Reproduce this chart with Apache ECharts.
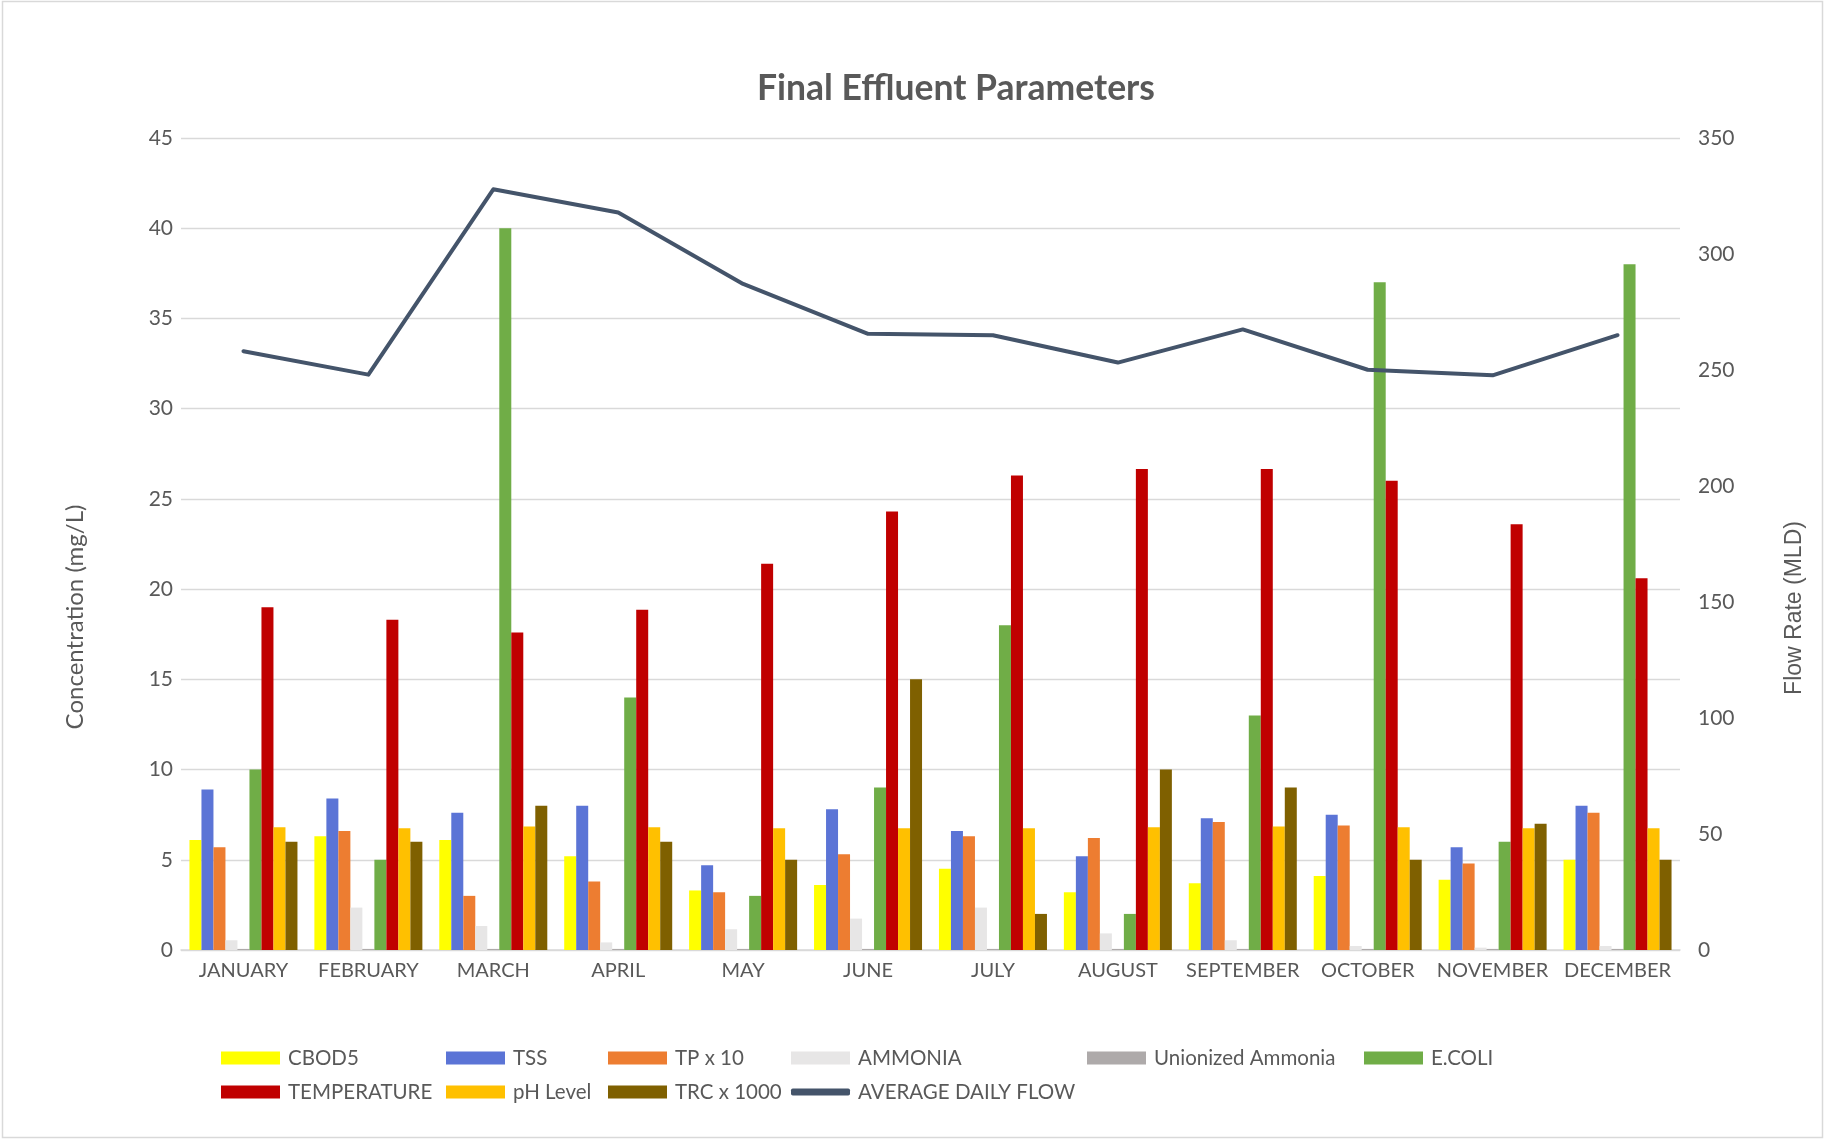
<!DOCTYPE html>
<html>
<head>
<meta charset="utf-8">
<script src="https://cdn.jsdelivr.net/npm/echarts@6/dist/echarts.min.js"></script>
<style>
html,body{margin:0;padding:0;background:#fff;}
#c{width:1825px;height:1141px;}
</style>
</head>
<body>
<div id="c"></div>
<script>
const months = ['JANUARY','FEBRUARY','MARCH','APRIL','MAY','JUNE','JULY','AUGUST','SEPTEMBER','OCTOBER','NOVEMBER','DECEMBER'];
const cbod5 = [6.1, 6.3, 6.1, 5.2, 3.3, 3.6, 4.5, 3.2, 3.7, 4.1, 3.9, 5.0];
const tss = [8.9, 8.4, 7.6, 8.0, 4.7, 7.8, 6.6, 5.2, 7.3, 7.5, 5.7, 8.0];
const tp10 = [5.7, 6.6, 3.0, 3.8, 3.2, 5.3, 6.3, 6.2, 7.1, 6.9, 4.8, 7.6];
const ammonia = [0.54, 2.35, 1.33, 0.42, 1.15, 1.74, 2.35, 0.92, 0.54, 0.22, 0.13, 0.22];
const unionized = [0.06, 0.06, 0.06, 0.06, 0.06, 0.06, 0.06, 0.06, 0.06, 0.06, 0.06, 0.06];
const ecoli = [10, 5, 40, 14, 3, 9, 18, 2, 13, 37, 6, 38];
const temperature = [19.0, 18.3, 17.6, 18.85, 21.4, 24.3, 26.3, 26.65, 26.65, 26.0, 23.6, 20.6];
const ph = [6.8, 6.75, 6.85, 6.8, 6.75, 6.75, 6.75, 6.8, 6.85, 6.8, 6.75, 6.75];
const trc1000 = [6, 6, 8, 6, 5, 15, 2, 10, 9, 5, 7, 5];
const flow = [258.1, 248.0, 327.9, 317.9, 287.1, 265.6, 265.0, 253.2, 267.5, 250.1, 247.7, 265.0];
const leftTicks = {min: 0, max: 45, interval: 5};
const rightTicks = {min: 0, max: 350, interval: 50};

const barDefs = [
  ['CBOD5', cbod5, '#FFFF00'],
  ['TSS', tss, '#5B74D6'],
  ['TP x 10', tp10, '#ED7D31'],
  ['AMMONIA', ammonia, '#E7E6E6'],
  ['Unionized Ammonia', unionized, '#AEAAAA'],
  ['E.COLI', ecoli, '#70AD47'],
  ['TEMPERATURE', temperature, '#C00000'],
  ['pH Level', ph, '#FFC000'],
  ['TRC x 1000', trc1000, '#7F6000']
];

const FONT = 'Lato';
const GREY = '#595959';

const series = barDefs.map(d => ({
  name: d[0], type: 'bar', data: d[1], yAxisIndex: 0,
  barWidth: 12, barGap: '0%',
  itemStyle: {color: d[2]},
  emphasis: {disabled: true}
}));
series.push({
  name: 'AVERAGE DAILY FLOW', type: 'line', data: flow, yAxisIndex: 1,
  symbol: 'none', lineStyle: {color: '#44546A', width: 4, join: 'round', cap: 'round'},
  itemStyle: {color: '#44546A'}, z: 5, emphasis: {disabled: true}
});

const legendPos = [
  ['CBOD5', 221, 1058], ['TSS', 446, 1058], ['TP x 10', 608, 1058], ['AMMONIA', 791, 1058],
  ['Unionized Ammonia', 1087, 1058], ['E.COLI', 1364, 1058],
  ['TEMPERATURE', 221, 1092], ['pH Level', 446, 1092], ['TRC x 1000', 608, 1092], ['AVERAGE DAILY FLOW', 791, 1092]
];
const legends = legendPos.map(p => {
  const isLine = p[0] === 'AVERAGE DAILY FLOW';
  return {
    data: [p[0]], left: p[1], top: p[2] - 12, padding: 0,
    itemWidth: 59, itemHeight: isLine ? 7 : 13,
    icon: isLine ? 'roundRect' : 'rect',
    selectedMode: false,
    textStyle: {fontFamily: FONT, fontSize: 20.5, color: GREY, lineHeight: 24, padding: [0,0,0,3]}
  };
});

const chart = echarts.init(document.getElementById('c'), null, {renderer: 'canvas'});
chart.setOption({
  backgroundColor: '#fff',
  animation: false,
  title: {
    text: 'Final Effluent Parameters', left: 752, top: 66,
    textStyle: {fontFamily: FONT, fontSize: 35.5, fontWeight: 'bold', color: GREY}
  },
  legend: legends,
  grid: {left: 181, right: 145, top: 138, bottom: 191, containLabel: false},
  xAxis: {
    type: 'category', data: months,
    axisLine: {lineStyle: {color: '#D9D9D9', width: 1.5}},
    axisTick: {show: false},
    axisLabel: {fontFamily: FONT, fontSize: 20, color: GREY, margin: 11, interval: 0}
  },
  yAxis: [
    {
      type: 'value', min: leftTicks.min, max: leftTicks.max, interval: leftTicks.interval,
      name: 'Concentration (mg/L)', nameLocation: 'middle', nameGap: 94, nameRotate: 90,
      nameTextStyle: {fontFamily: FONT, fontSize: 24, color: GREY, padding: [0, 146, 0, 0]},
      axisLine: {show: false}, axisTick: {show: false},
      axisLabel: {fontFamily: FONT, fontSize: 21, color: GREY, margin: 8},
      splitLine: {lineStyle: {color: '#D9D9D9', width: 1.3}}
    },
    {
      type: 'value', min: rightTicks.min, max: rightTicks.max, interval: rightTicks.interval,
      name: 'Flow Rate (MLD)', nameLocation: 'middle', nameGap: 103, nameRotate: 90,
      nameTextStyle: {fontFamily: 'Liberation Sans', fontSize: 23, color: GREY, padding: [0, 128, 0, 0]},
      axisLine: {show: false}, axisTick: {show: false},
      axisLabel: {fontFamily: FONT, fontSize: 21, color: GREY, margin: 18},
      splitLine: {show: false}
    }
  ],
  graphic: [{
    type: 'rect', silent: true, z: -10,
    shape: {x: 2.5, y: 1.5, width: 1820, height: 1136},
    style: {fill: 'none', stroke: '#D9D9D9', lineWidth: 1.5}
  }],
  series: series
});
</script>
</body>
</html>
